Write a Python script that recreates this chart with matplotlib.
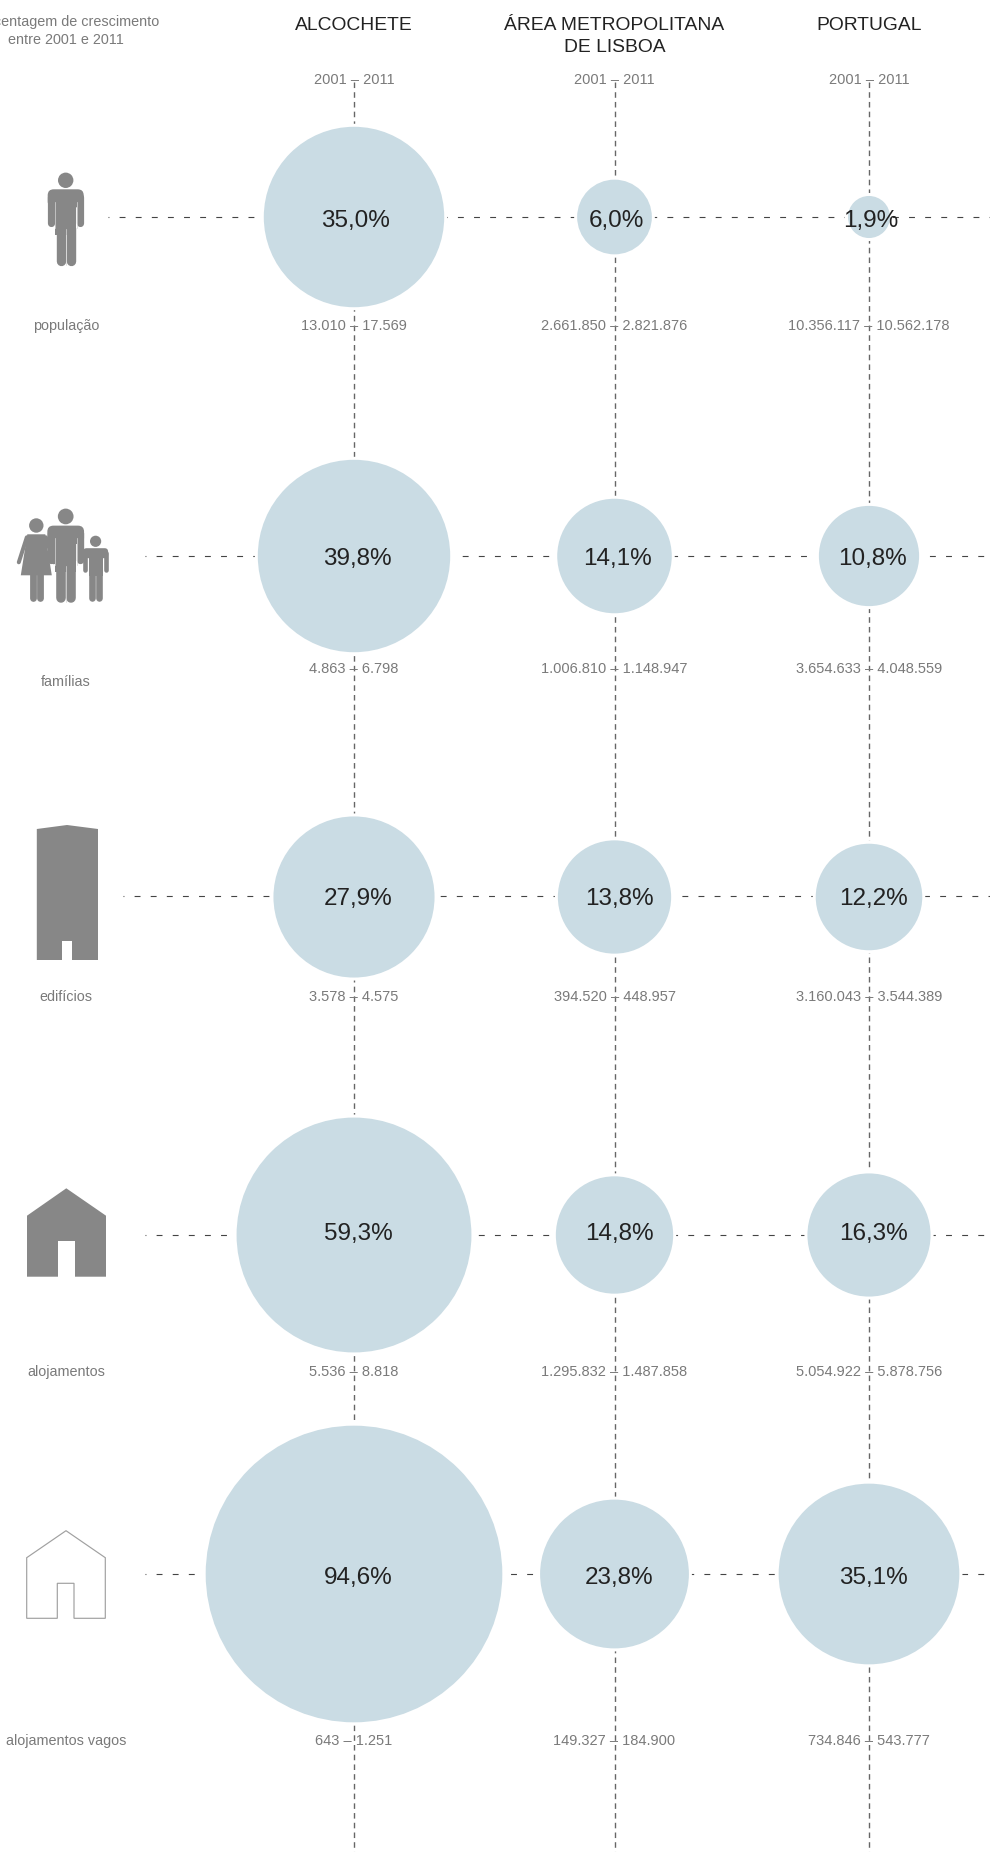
import numpy as np
import matplotlib.pyplot as plt
from matplotlib.patches import Circle, Polygon, FancyBboxPatch, Rectangle

plt.rcParams['font.family'] = ['Liberation Sans', 'DejaVu Sans']

regions = ["ALCOCHETE", "ÁREA METROPOLITANA\nDE LISBOA", "PORTUGAL"]
indicators = ["população", "famílias", "edifícios", "alojamentos", "alojamentos vagos"]

growth_alcochete = [35.0, 39.8, 27.9, 59.3, 94.6]
growth_lisboa = [6.0, 14.1, 13.8, 14.8, 23.8]
growth_portugal = [1.9, 10.8, 12.2, 16.3, 35.1]

counts_alcochete = ["13.010 – 17.569", "4.863 – 6.798", "3.578 – 4.575",
                    "5.536 – 8.818", "643 – 1.251"]
counts_lisboa = ["2.661.850 – 2.821.876", "1.006.810 – 1.148.947", "394.520 – 448.957",
                 "1.295.832 – 1.487.858", "149.327 – 184.900"]
counts_portugal = ["10.356.117 – 10.562.178", "3.654.633 – 4.048.559", "3.160.043 – 3.544.389",
                   "5.054.922 – 5.878.756", "734.846 – 543.777"]

col_x = [354, 614.5, 869]
circle_y = [217, 556, 897, 1235, 1574]
line_y = [217, 556, 895.5, 1235, 1574]
count_y = [326, 669, 997, 1372, 1741]
label_y = [326, 682.5, 997, 1372, 1741]
pct_y = [221, 559, 899, 1234, 1578]
pct_dx = [2, 3, 4.5, 4.5, 4.5]
line_start = [108, 145, 123, 145, 145]
R_SCALE = 15.25
GREY = "#878787"
LABEL = "#7a7a7a"


def bar(ax, x0, y0, x1, y1, w):
    # round capped limb, w in px
    ax.plot([x0, x1], [y0, y1], color=GREY, lw=w * 0.72, solid_capstyle="round", zorder=3)


def man(ax, cx, top, s=1.0):
    ax.add_patch(Circle((cx, top + 7.7 * s), 7.7 * s, fc=GREY, ec="none", zorder=3))
    ax.add_patch(FancyBboxPatch((cx - 12 * s, top + 22.7 * s), 24 * s, 6 * s,
                                boxstyle=f"round,pad={6 * s}", fc=GREY, ec="none", zorder=3))
    ax.add_patch(Rectangle((cx - 10.4 * s, top + 20 * s), 20.8 * s, 42 * s, fc=GREY, ec="none", zorder=3))
    bar(ax, cx - 14.5 * s, top + 24 * s, cx - 14.5 * s, top + 50.5 * s, 7.2 * s)
    bar(ax, cx + 14.5 * s, top + 24 * s, cx + 14.5 * s, top + 50.5 * s, 7.2 * s)
    bar(ax, cx - 4.9 * s, top + 55 * s, cx - 4.9 * s, top + 88 * s, 9.4 * s)
    bar(ax, cx + 4.9 * s, top + 55 * s, cx + 4.9 * s, top + 88 * s, 9.4 * s)
    # thin light gaps between limbs
    for dx in (-10.9, 10.9):
        ax.plot([cx + dx * s] * 2, [top + 29 * s, top + 55 * s], color="#d8d8d8", lw=0.5, zorder=3.1)
    ax.plot([cx, cx], [top + 56 * s, top + 92 * s], color="#d8d8d8", lw=0.5, zorder=3.1)


def woman(ax, cx, top):
    ax.add_patch(Circle((cx, top + 7.2), 7.2, fc=GREY, ec="none", zorder=3))
    ax.add_patch(Polygon([(cx - 9, top + 16), (cx + 9, top + 16), (cx + 15.5, top + 57),
                          (cx - 15.5, top + 57)], fc=GREY, ec="none", zorder=3))
    bar(ax, cx - 9.5, top + 19, cx - 17.5, top + 44, 4)
    bar(ax, cx + 9.5, top + 19, cx + 17.5, top + 44, 4)
    bar(ax, cx - 3.8, top + 55, cx - 3.8, top + 80, 6.8)
    bar(ax, cx + 3.8, top + 55, cx + 3.8, top + 80, 6.8)


def boy(ax, cx, top):
    ax.add_patch(Circle((cx, top + 5.6), 5.6, fc=GREY, ec="none", zorder=3))
    ax.add_patch(FancyBboxPatch((cx - 9, top + 16), 18, 3, boxstyle="round,pad=3.5",
                                fc=GREY, ec="none", zorder=3))
    ax.add_patch(Rectangle((cx - 7, top + 14), 14, 26, fc=GREY, ec="none", zorder=3))
    bar(ax, cx - 10.3, top + 17, cx - 10.3, top + 34, 4.6)
    bar(ax, cx + 10.3, top + 17, cx + 10.3, top + 34, 4.6)
    bar(ax, cx - 3.4, top + 36, cx - 3.4, top + 62.5, 6.6)
    bar(ax, cx + 3.4, top + 36, cx + 3.4, top + 62.5, 6.6)


def draw_icons(ax):
    man(ax, 65.7, 172.6)
    boy(ax, 95.6, 535.7)
    woman(ax, 36.3, 518.3)
    man(ax, 65.7, 508.6, 1.02)

    # edificio
    ax.add_patch(Polygon([(36.8, 829), (67, 825), (98, 829), (98, 960), (72, 960), (72, 941),
                          (62, 941), (62, 960), (36.8, 960)], fc=GREY, ec="none", zorder=3))
    # alojamentos
    ax.add_patch(Polygon([(66.3, 1188.3), (106, 1215.7), (106, 1276.7), (75, 1276.7), (75, 1241),
                          (58, 1241), (58, 1276.7), (27, 1276.7), (27, 1215.7)],
                         fc=GREY, ec="none", zorder=3))
    # alojamentos vagos
    ax.add_patch(Polygon([(66, 1530.7), (105.3, 1557.7), (105.3, 1618.3), (74, 1618.3), (74, 1583.3),
                          (57.3, 1583.3), (57.3, 1618.3), (26.7, 1618.3), (26.7, 1557.7)],
                         fc="white", ec="#a0a0a0", lw=0.85, zorder=3))


fig = plt.figure(figsize=(9.9, 18.52), dpi=100)
ax = fig.add_axes([0, 0, 1, 1])
ax.set_xlim(0, 990)
ax.set_ylim(1852, 0)
ax.axis("off")

# guide lines under the circles
for x in col_x:
    ax.plot([x, x], [82, 1852], color="#666666", lw=1.0, linestyle=(0, (4, 3)), zorder=1)
for y, x0 in zip(line_y, line_start):
    ax.plot([x0, 990], [y, y], color="#444444", lw=0.8, linestyle=(4.5, (5.3, 9.2)), zorder=1)

columns = [growth_alcochete, growth_lisboa, growth_portugal]
counts = [counts_alcochete, counts_lisboa, counts_portugal]

for x, vals, cnts, region in zip(col_x, columns, counts, regions):
    for y, py, dx, cy, v, c in zip(circle_y, pct_y, pct_dx, count_y, vals, cnts):
        r = R_SCALE * np.sqrt(v)
        ax.add_patch(Circle((x, y), r + 3, fc="white", ec="none", zorder=2))
        ax.add_patch(Circle((x, y), r, fc="#cadce4", ec="none", zorder=2.5))
        ax.text(x + dx, py, f"{v:.1f}%".replace(".", ","), fontsize=17.5, color="#222222",
                ha="center", va="center", zorder=4)
        ax.text(x, cy, c, fontsize=10.5, color=LABEL, ha="center", va="center", zorder=4)
    ax.text(x, 80, "2001 – 2011", fontsize=10.5, color=LABEL, ha="center", va="center", zorder=4)
    if "\n" in region:
        a, b = region.split("\n")
        ax.text(x, 26, a, fontsize=13.9, color="#222222", ha="center", va="center")
        ax.text(x, 48, b, fontsize=13.9, color="#222222", ha="center", va="center")
    else:
        ax.text(x, 25, region, fontsize=13.9, color="#222222", ha="center", va="center")

ax.text(66, 22, "percentagem de crescimento", fontsize=10.4, color=LABEL, ha="center", va="center")
ax.text(66, 40, "entre 2001 e 2011", fontsize=10.4, color=LABEL, ha="center", va="center")

for y, name in zip(label_y, indicators):
    ax.text(66, y, name, fontsize=10.4, color=LABEL, ha="center", va="center")

draw_icons(ax)

fig.savefig("out.png", dpi=100, facecolor="white")
